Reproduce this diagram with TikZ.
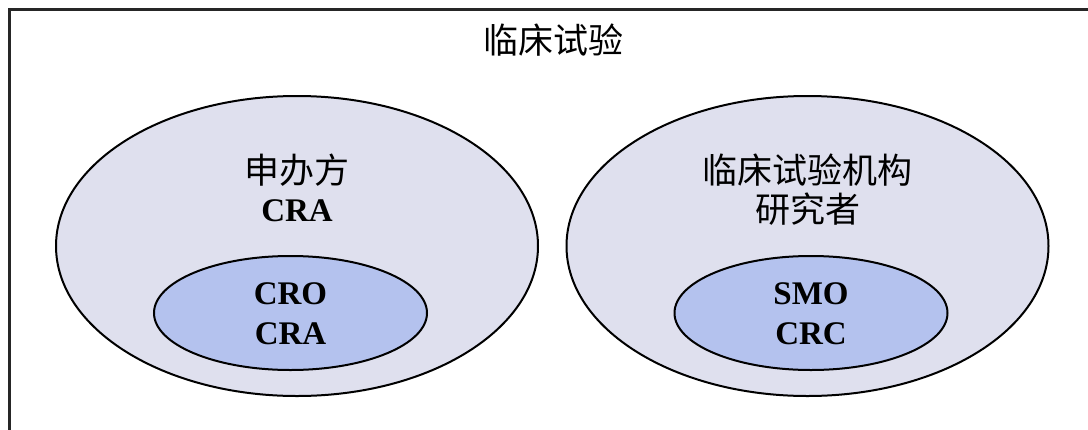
\documentclass[tikz,border=0pt]{standalone}
\usepackage{fontspec}
\setmainfont{Liberation Serif}
\newfontfamily\cjk{Noto Sans CJK SC}
\usetikzlibrary{shapes.geometric}
\definecolor{outerfill}{HTML}{DFE0EE}
\definecolor{innerfill}{HTML}{B4C2EE}
\tikzset{
  bigell/.style={ellipse, draw=black, line width=2pt, fill=outerfill, inner sep=0pt,
    minimum width=482pt, minimum height=300pt},
  smallell/.style={ellipse, draw=black, line width=2pt, fill=innerfill, inner sep=0pt,
    minimum width=273pt, minimum height=114pt},
  cjktxt/.style={inner sep=0pt, font=\cjk\fontsize{35}{42}\selectfont},
  lattxt/.style={inner sep=0pt, font=\bfseries\fontsize{33}{40}\selectfont},
}
\begin{document}
\begin{tikzpicture}[x=1pt,y=-1pt]
\useasboundingbox (0,0) rectangle (1088,429);
\draw[line width=2.2pt, draw=black!85] (9.5,1200) -- (9.5,9.5) -- (1200,9.5);
\node[cjktxt] (title) at (553,40) {临床试验};
\node[bigell] (sponsor) at (297,246) {};
\node[bigell] (site) at (807.5,246) {};
\node[smallell] (cro) at (290.5,313) {};
\node[smallell] (smo) at (811,313) {};
\node[cjktxt] (sponsorlbl) at (297,170) {申办方};
\node[lattxt] (sponsorcra) at (297,211) {CRA};
\node[cjktxt] (sitelbl) at (807.5,170) {临床试验机构};
\node[cjktxt] (sitepi) at (807.5,209) {研究者};
\node[lattxt] (crolbl) at (290.5,294) {CRO};
\node[lattxt] (crocra) at (290.5,334) {CRA};
\node[lattxt] (smolbl) at (811,294) {SMO};
\node[lattxt] (smocrc) at (811,334) {CRC};
\end{tikzpicture}
\end{document}
